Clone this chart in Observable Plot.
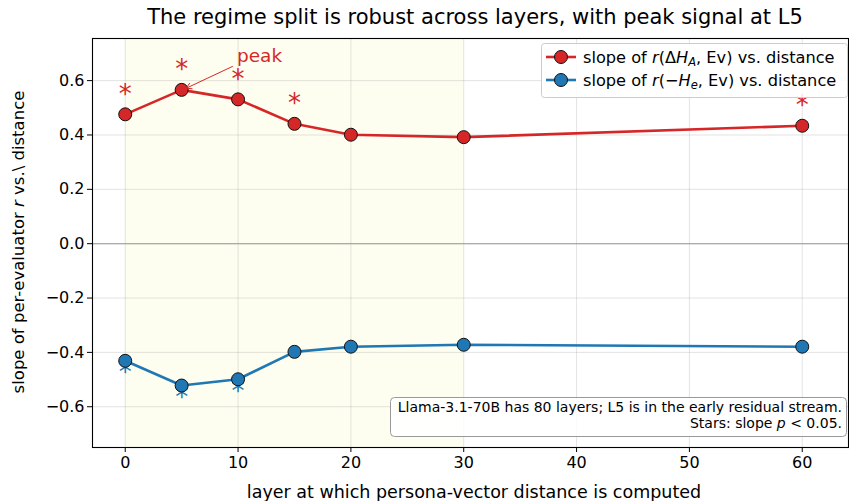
<!DOCTYPE html>
<html><head><meta charset="utf-8">
<script src="https://cdn.jsdelivr.net/npm/d3@7"></script>
<script src="https://cdn.jsdelivr.net/npm/@observablehq/plot@0.6"></script>
<style>
body{margin:0;background:#fff;font-family:"DejaVu Sans",sans-serif;}
#title{position:relative;height:30px;width:849px;}
#title span{position:absolute;left:475px;top:5px;line-height:24px;transform:translateX(-50%);white-space:nowrap;font-size:21px;color:#000;}
svg{display:block;}
</style></head>
<body>
<div id="title"><span>The regime split is robust across layers, with peak signal at L5</span></div>
<div id="chart"></div>
<script>
const layers = [0, 5, 10, 15, 20, 30, 60];
const slopeDeltaHA = [0.476, 0.566, 0.531, 0.441, 0.401, 0.392, 0.434];
const slopeNegHe = [-0.431, -0.522, -0.499, -0.398, -0.379, -0.372, -0.379];
const sigDeltaHA = [true, true, true, true, false, false, true];
const sigNegHe = [true, true, true, false, false, false, false];
const xTicks = [0, 10, 20, 30, 40, 50, 60];
const yTicks = [-0.6, -0.4, -0.2, 0.0, 0.2, 0.4, 0.6];
const shadeRange = [{x1: 0, x2: 30}];
const peakLabel = [{x: 9.9, y: 0.69, text: "peak"}];
const peakArrow = [{x1: 9.5, y1: 0.652, x2: 5.4, y2: 0.572}];

const red = "#d62728", blue = "#1f77b4";
const redData = layers.map((l, i) => ({layer: l, v: slopeDeltaHA[i], sig: sigDeltaHA[i]}));
const blueData = layers.map((l, i) => ({layer: l, v: slopeNegHe[i], sig: sigNegHe[i]}));

const W = 849, H = 471;
const plot = Plot.plot({
  width: W, height: H,
  marginTop: 8, marginLeft: 92, marginRight: 1, marginBottom: 54,
  style: {fontFamily: "DejaVu Sans, sans-serif", fontSize: "16px", background: "white", overflow: "visible"},
  x: {domain: [-2.9, 64.1], ticks: xTicks, label: null, tickFormat: d3.format("d")},
  y: {domain: [-0.75, 0.755], ticks: yTicks, label: null, tickFormat: d3.format(".1f")},
  marks: [
    Plot.rectX(shadeRange, {x1: "x1", x2: "x2", y1: -0.75, y2: 0.755, fill: "#fefef0"}),
    Plot.gridX({ticks: xTicks, stroke: "#b0b0b0", strokeOpacity: 0.35, strokeWidth: 1}),
    Plot.gridY({ticks: yTicks, stroke: "#b0b0b0", strokeOpacity: 0.35, strokeWidth: 1}),
    Plot.ruleY([0], {stroke: "#999", strokeWidth: 1.1}),
    Plot.text(redData.filter(d => d.sig), {x: "layer", y: "v", text: () => "*", fill: red, fontSize: 26, dy: -20}),
    Plot.text(blueData.filter(d => d.sig), {x: "layer", y: "v", text: () => "*", fill: blue, fontSize: 26, dy: 12}),
    Plot.line(redData, {x: "layer", y: "v", stroke: red, strokeWidth: 2.6}),
    Plot.line(blueData, {x: "layer", y: "v", stroke: blue, strokeWidth: 2.6}),
    Plot.dot(redData, {x: "layer", y: "v", r: 6.5, fill: red, stroke: "#111", strokeWidth: 1}),
    Plot.dot(blueData, {x: "layer", y: "v", r: 6.5, fill: blue, stroke: "#111", strokeWidth: 1}),
    Plot.arrow(peakArrow, {x1: "x1", y1: "y1", x2: "x2", y2: "y2", stroke: red, strokeWidth: 1, headLength: 9, bend: false}),
    Plot.text(peakLabel, {x: "x", y: "y", text: "text", fill: red, fontSize: 18.5, textAnchor: "start"}),
    Plot.axisX({ticks: xTicks, tickSize: 5, tickPadding: 4, fontSize: 16, tickFormat: d3.format("d"), label: null}),
    Plot.axisY({ticks: yTicks, tickSize: 5, tickPadding: 3, fontSize: 16, tickFormat: d3.format(".1f"), label: null}),
    Plot.frame({stroke: "#000", strokeWidth: 1.1})
  ]
});
document.getElementById("chart").appendChild(plot);

const svg = d3.select(plot);
// axis labels
const yl = svg.append("text").attr("transform", "translate(19,212) rotate(-90)")
  .attr("text-anchor", "middle").attr("dominant-baseline", "middle").style("font-size", "16.5px").attr("fill", "#000");
yl.append("tspan").text("slope of per-evaluator ");
yl.append("tspan").style("font-style", "italic").text("r");
yl.append("tspan").text(" vs.\\ distance");

svg.append("text").attr("x", 474).attr("y", 468).attr("text-anchor", "middle")
  .style("font-size", "17.5px").attr("fill", "#000").text("layer at which persona-vector distance is computed");

// legend
const lg = svg.append("g");
lg.append("rect").attr("x", 541.5).attr("y", 13.5).attr("width", 306).attr("height", 54).attr("rx", 3)
  .attr("fill", "white").attr("fill-opacity", 0.85).attr("stroke", "#ccc");
const entries = [
  {color: red, y: 27, parts: [["slope of ", ""], ["r", "i"], ["(Δ", ""], ["H", "i"], ["A", "si"], [", Ev) vs. distance", ""]]},
  {color: blue, y: 50, parts: [["slope of ", ""], ["r", "i"], ["(−", ""], ["H", "i"], ["e", "si"], [", Ev) vs. distance", ""]]}
];
entries.forEach(e => {
  lg.append("line").attr("x1", 546).attr("x2", 576).attr("y1", e.y).attr("y2", e.y).attr("stroke", e.color).attr("stroke-width", 2.6);
  lg.append("circle").attr("cx", 561).attr("cy", e.y).attr("r", 6.5).attr("fill", e.color).attr("stroke", "#111");
  const t = lg.append("text").attr("x", 583).attr("y", e.y + 5.5).attr("text-anchor", "start").style("font-size", "16.2px").attr("fill", "#000");
  e.parts.forEach(([s, f]) => {
    const ts = t.append("tspan").text(s);
    if (f.includes("i")) ts.style("font-style", "italic");
    if (f.includes("s")) ts.attr("dy", 3).style("font-size", "11.5px");
    else if (s.startsWith(",")) ts.attr("dy", -3);
  });
});

// note box
const nb = svg.append("g");
nb.append("rect").attr("x", 390.5).attr("y", 367.5).attr("width", 456).attr("height", 39).attr("rx", 4)
  .attr("fill", "white").attr("fill-opacity", 0.85).attr("stroke", "#999");
nb.append("text").attr("x", 842).attr("y", 382).attr("text-anchor", "end").style("font-size", "14px").attr("fill", "#000")
  .text("Llama-3.1-70B has 80 layers; L5 is in the early residual stream.");
const n2 = nb.append("text").attr("x", 842).attr("y", 398).attr("text-anchor", "end").style("font-size", "14px").attr("fill", "#000");
n2.append("tspan").text("Stars: slope ");
n2.append("tspan").style("font-style", "italic").text("p");
n2.append("tspan").text(" < 0.05.");
</script>
</body></html>
